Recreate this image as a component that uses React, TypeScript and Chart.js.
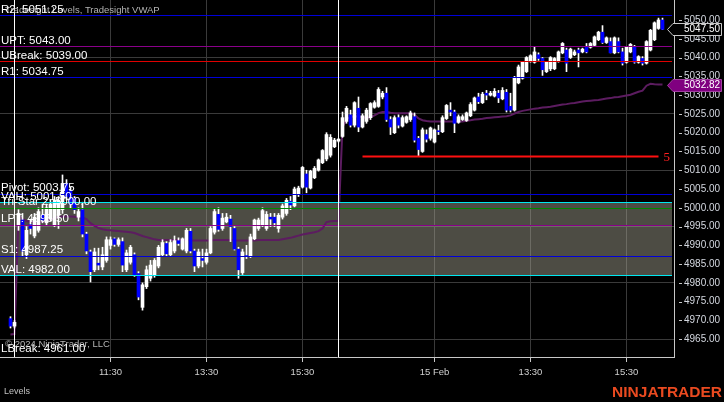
import React, { useEffect, useRef } from 'react';
import { Chart, registerables } from 'chart.js';

Chart.register(...registerables);

// ---- Data (5-minute bars, index -1 = Feb 13 16:10 ... 162 = Feb 15 16:15) ----
const FIRST_BAR = -1;

const opens = [
  4970.5, 4968.5,
  4995.5, 4996.75, 4987.5, 4995.5, 4992.5, 4994, 4998, 4996, 4997, 4995.5,
  4998, 4999.5, 5006.5, 5004.5, 5002.5, 4997.5, 4999.5, 4993, 4988.25, 4983.5,
  4985.25, 4984.25, 4986, 4990, 4991.75, 4990.25, 4991, 4983.5, 4985.5, 4987.5,
  4982.5, 4973.5, 4979, 4981.25, 4982, 4984.5, 4987.5, 4990.5, 4987.5, 4988.5,
  4991.25, 4989, 4988.5, 4993.75, 4988.5, 4984.5, 4986.5, 4985.5, 4988, 4993.5,
  4998.25, 4994.5, 4996.25, 4997, 4994.5, 4989, 4982.75, 4987.25, 4987, 4991.75,
  4994.5, 4995.5, 4994.5, 4997.5, 4997.5, 4994.5, 4997.5, 4998.5, 5001.75, 5000.5,
  5003.5, 5005.5, 5009, 5005.25, 5008, 5010, 5012, 5013, 5014, 5016.25, 5017.75,
  5019, 5023, 5024.75, 5022, 5026.5, 5021.5, 5023, 5024, 5026.75, 5027,
  5029.5, 5030.5, 5023.5, 5020, 5024, 5021.75, 5022.75, 5023.5, 5024.25, 5018.5,
  5015, 5019.5, 5018.5, 5017.5, 5020.5, 5020.25, 5023.75, 5026, 5025.5, 5022.75,
  5023.5, 5023.25, 5024.5, 5026, 5029.5, 5028, 5030.5, 5030, 5029.75, 5030.5,
  5029, 5030.75, 5027, 5026, 5033.25, 5034.5, 5036.25, 5039, 5038.75, 5040.75,
  5039.75, 5036.25, 5037, 5037, 5039, 5041.25, 5042, 5040, 5040.75, 5042,
  5041.5, 5042.75, 5042.75, 5043.25, 5044.75, 5046.75, 5044, 5044.25, 5041.25, 5044.25,
  5041.5, 5038.75, 5041.5, 5042.75, 5038.75, 5039.75, 5038.5, 5042, 5044.75, 5047.75, 5050,
];

const highs = [
  4971, 4970,
  4999.5, 4998.5, 4995, 4997, 4998.5, 5000, 5001, 5001, 5002, 5003,
  5003, 5008.75, 5007.5, 5005.5, 5003, 5000, 5001.5, 4993.5, 4988.75, 4989.25,
  4989.25, 4989.5, 4992.25, 4992.25, 4992, 4992, 4992, 4988.75, 4990, 4988,
  4983, 4980, 4984.5, 4986, 4986.5, 4990, 4991.5, 4991, 4991.5, 4992.5,
  4992, 4992, 4994.5, 4994.5, 4989, 4989, 4989, 4989, 4995, 4999.75,
  5000, 4998.5, 4998.5, 4998, 4995, 4989.5, 4989, 4990, 4993, 4997,
  4997.25, 5000, 4999, 4998.5, 4998.5, 4998.5, 5001, 5002.5, 5003, 5005.5,
  5005.75, 5011, 5010, 5010, 5011, 5013, 5015.5, 5020, 5019.5, 5018.5, 5018.5,
  5025.5, 5027, 5026, 5028.25, 5029.5, 5025, 5026.5, 5028, 5028.5, 5032,
  5031, 5032, 5024.25, 5024.5, 5024.75, 5024.5, 5024.5, 5025.75, 5025.25, 5019,
  5021.25, 5020.75, 5021.5, 5021, 5022, 5024.5, 5027.5, 5028, 5026, 5024.75,
  5024.75, 5025.5, 5028, 5029.5, 5030.5, 5030.75, 5031.25, 5031, 5031.75, 5031.25,
  5032, 5031.5, 5030.5, 5035, 5038, 5039, 5040.25, 5040.75, 5042.75, 5041.25,
  5040, 5039, 5040.25, 5040, 5041.75, 5044, 5042.5, 5042.5, 5042, 5042.5,
  5042.5, 5043.75, 5044, 5045.75, 5047, 5048.5, 5045.5, 5045.25, 5045.5, 5045.25,
  5042.5, 5043, 5043.75, 5043.25, 5040.5, 5040.25, 5044.5, 5047.5, 5049.5, 5050.5, 5050.5,
];

const lows = [
  4968, 4968,
  4994, 4987.25, 4986.5, 4993, 4992, 4993.5, 4996, 4995.5, 4996.5, 4995,
  4994.5, 4998.5, 5002, 5000, 4998.5, 4996.5, 4992.25, 4987.75, 4980.25, 4983,
  4983.5, 4983.5, 4985.5, 4989, 4989.75, 4989.75, 4983, 4983, 4985, 4981.75,
  4975.5, 4972.75, 4978.5, 4980.5, 4981.5, 4984, 4987, 4987, 4987, 4988,
  4990, 4988.75, 4988, 4988, 4983, 4984, 4984.25, 4985, 4987.75, 4993,
  4993.75, 4994, 4996, 4991, 4988.75, 4981.25, 4982.25, 4986.5, 4986.75, 4991.5,
  4994, 4995, 4994, 4995, 4995, 4993.5, 4997, 4998, 4999.5, 5000.25,
  5003, 5005.25, 5004, 5005, 5007.75, 5009.75, 5011.75, 5012.5, 5013.5, 5016, 5017.5,
  5018.75, 5022.5, 5021.5, 5021.5, 5020.25, 5021.25, 5022.5, 5023.5, 5026.5, 5026.75,
  5029, 5023, 5019.5, 5019.75, 5021.25, 5021.5, 5022.5, 5023, 5017.5, 5013.75,
  5014.75, 5017.5, 5018, 5017.25, 5019.5, 5020, 5023.5, 5024.5, 5020, 5022.5,
  5023.25, 5023, 5024.25, 5025.75, 5027.75, 5027.75, 5028.75, 5029.75, 5029.5, 5028,
  5028.75, 5025.5, 5025.5, 5025.75, 5033, 5034.25, 5036, 5038.75, 5038.5, 5039.25,
  5035.25, 5036, 5036.5, 5036.75, 5038.75, 5041, 5036.25, 5039.75, 5040.5, 5037.5,
  5041.25, 5041.25, 5042.5, 5043, 5044.5, 5043.75, 5043.75, 5041.25, 5041, 5041.25,
  5038, 5038.5, 5041.25, 5038.5, 5038.5, 5038, 5038.25, 5041.75, 5044.5, 5047.5, 5047.5,
];

const closes = [
  4968.5, 4969.5,
  4998.5, 4988.5, 4994, 4994.5, 4997.5, 4999, 4996.75, 5000, 5001, 5002,
  5002, 5006.5, 5003, 5001, 4999.5, 4999, 4993, 4988.5, 4983, 4988.25,
  4984.75, 4987.5, 4991.5, 4991.5, 4990.25, 4991.5, 4984.75, 4988, 4989.5, 4982,
  4976.25, 4979.5, 4983.5, 4984.75, 4986, 4989.5, 4990.75, 4987.75, 4990.75, 4991.25,
  4990.5, 4991.75, 4994, 4988.5, 4984.5, 4988.25, 4986, 4988, 4994.5, 4999,
  4994.25, 4997.25, 4997.5, 4995, 4989, 4983.5, 4988.25, 4987, 4992.25, 4996.75,
  4996.75, 4999.25, 4998.25, 4997, 4996, 4998, 5000.5, 5002, 5000.75, 5005,
  5005.25, 5010.75, 5005.5, 5009.75, 5010.5, 5012.75, 5015.25, 5019.5, 5018.75, 5018, 5018.25,
  5024, 5026.5, 5022, 5028, 5021.5, 5024.5, 5026, 5027.75, 5028, 5031.5,
  5030.5, 5023.5, 5021.5, 5024, 5022, 5024, 5024.25, 5025.25, 5018, 5015.5,
  5020.75, 5018.25, 5021.25, 5020.75, 5020.25, 5024, 5027.25, 5025.5, 5022.5, 5024.25,
  5024.25, 5025.25, 5027.5, 5029.25, 5028.25, 5030.25, 5030, 5030.5, 5031, 5029.25,
  5031.25, 5026, 5026, 5034.5, 5037.5, 5038.75, 5040, 5040.5, 5041.5, 5039.75,
  5036.75, 5038.75, 5040, 5039.75, 5041.5, 5043.75, 5038.5, 5042.25, 5041.5, 5041.25,
  5042.25, 5041.5, 5043.75, 5045.5, 5046.75, 5044, 5045.25, 5041.25, 5045.25, 5041.5,
  5038.5, 5042.75, 5043.5, 5038.75, 5040.25, 5038.5, 5044.25, 5047.25, 5049.25, 5050, 5047.5,
];

const vwap = [
  4966.3, 4966.4,
  4997.8, 4997.0, 4996.5, 4996.3, 4996.2, 4996.2, 4996.3, 4996.5, 4996.9, 4997.2, 4997.5, 4997.7,
  4997.7, 4997.7, 4997.6, 4997.5, 4997.4, 4997.0, 4995.9, 4995.2, 4994.6, 4994.3, 4994.1, 4994.0,
  4993.9, 4993.8, 4993.7, 4993.6, 4993.5, 4993.3, 4992.9, 4992.5, 4992.2, 4991.9, 4991.6, 4991.4,
  4991.4, 4991.4, 4991.4, 4991.4, 4991.4, 4991.4, 4991.4, 4991.3, 4991.3, 4991.3, 4991.3, 4991.3,
  4991.3, 4991.4, 4991.4, 4991.4, 4991.4, 4991.4, 4991.3, 4991.3, 4991.3, 4991.3, 4991.3, 4991.3,
  4991.4, 4991.4, 4991.4, 4991.4, 4991.4, 4991.4, 4991.6, 4991.8, 4992.0, 4992.3, 4992.6, 4992.9,
  4993.1, 4993.3, 4993.5, 4993.8, 4994.5, 4996.2, 4996.4, 4996.5, 4996.5,
  5021.5, 5023.5, 5024.2, 5024.4, 5024.3, 5024.1, 5023.9, 5024.1, 5024.6, 5025.2, 5025.5, 5025.5,
  5025.3, 5025.2, 5025.2, 5025.2, 5025.2, 5025.2, 5024.8, 5023.8, 5023.3, 5023.1, 5023.0, 5023.0,
  5023.0, 5023.0, 5023.0, 5023.0, 5023.0, 5023.0, 5023.0, 5023.2, 5023.3, 5023.5, 5023.6, 5023.7,
  5023.9, 5024.0, 5024.1, 5024.2, 5024.3, 5024.4, 5024.6, 5025.1, 5025.5, 5025.8, 5026.0, 5026.2,
  5026.4, 5026.5, 5026.7, 5026.8, 5026.9, 5027.1, 5027.3, 5027.5, 5027.6, 5027.8, 5027.9, 5028.1,
  5028.3, 5028.4, 5028.5, 5028.6, 5028.7, 5028.9, 5029.1, 5029.2, 5029.4, 5029.5, 5029.7, 5029.9,
  5030.1, 5030.5, 5030.9, 5031.2, 5032.5, 5033.0, 5032.9, 5032.85, 5032.82,
];

const levelNames = ['R2', 'UPT', 'UBreak', 'R1', 'Pivot', 'VAH', 'Tri-Star 2', 'LPT', 'S1', 'VAL', 'LBreak'];
const levelValues = [5051.25, 5043.0, 5039.0, 5034.75, 5003.75, 5001.5, 5000.0, 4995.5, 4987.25, 4982.0, 4961.0];
const levelColors = ['#0000d8', '#8a008a', '#e00000', '#0000d8', '#0000d8', '#00e8f0', '#008800', '#8a008a', '#0000d8', '#00e8f0', ''];

const valueAreaHigh = 5001.5;
const valueAreaLow = 4982.0;

const targetPrice = 5013.75;
const targetStartBar = 87;
const targetEndBar = 161;
const targetLabel = '5';

const sessionBreakBars = [0, 81];

const xTickBars = [24, 48, 72, 105, 129, 153];
const xTickLabels = ['11:30', '13:30', '15:30', '15 Feb', '13:30', '15:30'];

const yTickValues = [4965, 4970, 4975, 4980, 4985, 4990, 4995, 5000, 5005, 5010, 5015, 5020, 5025, 5030, 5035, 5040, 5045, 5050];
const gridEvery = 15;

const titleText = 'Tradesight Levels, Tradesight VWAP';
const copyrightText = '\u00A9 2024 NinjaTrader, LLC';
const panelLabel = 'Levels';
const logoText = 'NINJATRADER';

// ---- View range ----
const X_MIN = -3.625;
const X_MAX = 164.875;
const Y_MIN = 4960.28;
const Y_MAX = 5055.32;

const FONT = '"Liberation Sans", Arial, sans-serif';

const overlayPlugin: any = {
  id: 'ntOverlay',
  beforeDatasetsDraw(chart: any) {
    const { ctx, chartArea: a, scales } = chart;
    const y = scales.y;
    const yt = Math.round(y.getPixelForValue(valueAreaHigh));
    const yb = Math.round(y.getPixelForValue(valueAreaLow));
    ctx.save();
    ctx.fillStyle = 'rgba(170,168,150,0.45)';
    ctx.fillRect(a.left, yt, a.right - 2 - a.left, yb - yt);
    ctx.restore();
  },
  afterDatasetsDraw(chart: any) {
    const { ctx, chartArea: a, scales } = chart;
    const x = scales.x;
    const y = scales.y;
    ctx.save();
    ctx.lineWidth = 1;
    levelValues.forEach((v, i) => {
      const c = levelColors[i];
      if (!c) return;
      const py = Math.round(y.getPixelForValue(v)) + 0.5;
      ctx.strokeStyle = c;
      ctx.beginPath();
      ctx.moveTo(a.left, py);
      ctx.lineTo(a.right - 2, py);
      ctx.stroke();
    });
    {
      const py = Math.round(y.getPixelForValue(targetPrice)) + 0.5;
      const x0 = x.getPixelForValue(targetStartBar);
      const x1 = x.getPixelForValue(targetEndBar);
      ctx.strokeStyle = '#ff1010';
      ctx.lineWidth = 2;
      ctx.beginPath();
      ctx.moveTo(x0, py);
      ctx.lineTo(x1, py);
      ctx.stroke();
      ctx.lineWidth = 1;
      ctx.fillStyle = '#ff2020';
      ctx.font = '13px "Liberation Serif", "Times New Roman", serif';
      ctx.textBaseline = 'middle';
      ctx.textAlign = 'left';
      ctx.fillText(targetLabel, x1 + 5, py + 1);
    }
    ctx.strokeStyle = '#ffffff';
    sessionBreakBars.forEach((b) => {
      const px = Math.floor(x.getPixelForValue(b)) + 0.5;
      ctx.beginPath();
      ctx.moveTo(px, a.top);
      ctx.lineTo(px, a.bottom);
      ctx.stroke();
    });
    ctx.textAlign = 'left';
    ctx.textBaseline = 'alphabetic';
    ctx.fillStyle = '#b4b4b4';
    ctx.font = '9.5px ' + FONT;
    ctx.fillText(titleText, 5, 13);
    ctx.fillText(copyrightText, 5, 346.5);
    ctx.fillStyle = '#ffffff';
    ctx.font = '11.5px ' + FONT;
    levelValues.forEach((v, i) => {
      const py = y.getPixelForValue(v);
      ctx.fillText(levelNames[i] + ': ' + v.toFixed(2), 1, py - 2.5);
    });
    ctx.restore();
  },
  afterDraw(chart: any) {
    const { ctx, chartArea: a, scales, width, height } = chart;
    const y = scales.y;
    ctx.save();
    ctx.strokeStyle = '#c8c8c8';
    ctx.lineWidth = 1;
    yTickValues.forEach((v) => {
      const py = Math.round(y.getPixelForValue(v)) + 0.5;
      ctx.beginPath();
      ctx.moveTo(a.right + 5, py);
      ctx.lineTo(a.right + 8, py);
      ctx.stroke();
    });
    const drawFlag = (val: number, fill: string, stroke: string) => {
      const py = Math.round(y.getPixelForValue(val)) + 0.5;
      const x0 = a.right - 6.5;
      const x1 = a.right - 1;
      const x2 = a.right + 47.5;
      const h = 6;
      ctx.beginPath();
      ctx.moveTo(x0, py);
      ctx.lineTo(x1, py - h);
      ctx.lineTo(x2, py - h);
      ctx.lineTo(x2, py + h);
      ctx.lineTo(x1, py + h);
      ctx.closePath();
      ctx.fillStyle = fill;
      ctx.fill();
      ctx.strokeStyle = stroke;
      ctx.stroke();
      ctx.fillStyle = '#ffffff';
      ctx.font = '10px ' + FONT;
      ctx.textAlign = 'left';
      ctx.textBaseline = 'middle';
      ctx.fillText(val.toFixed(2), a.right + 10, py);
    };
    drawFlag(closes[closes.length - 1], '#000000', '#c8c8c8');
    drawFlag(vwap[vwap.length - 1], '#800080', '#a040a0');
    ctx.textBaseline = 'middle';
    ctx.textAlign = 'left';
    ctx.fillStyle = '#c0c0c0';
    ctx.font = '9px ' + FONT;
    ctx.fillText(panelLabel, 4, 392);
    ctx.textAlign = 'right';
    ctx.fillStyle = '#ea4a20';
    ctx.font = 'bold 15.5px ' + FONT;
    ctx.textBaseline = 'alphabetic';
    ctx.fillText(logoText, width - 2, height - 5);
    ctx.restore();
  },
};

export default function App() {
  const ref = useRef<HTMLCanvasElement | null>(null);

  useEffect(() => {
    document.body.style.margin = '0';
    document.body.style.background = '#000';
    const canvas = ref.current;
    if (!canvas) return;

    const bodyData = opens.map((o, i) => ({ x: FIRST_BAR + i, y: [o, closes[i]] }));
    const wickData = lows.map((l, i) => ({ x: FIRST_BAR + i, y: [l, highs[i]] }));
    const bodyColors = opens.map((o, i) => (closes[i] >= o ? '#ffffff' : '#0000ff'));
    const vwapData = vwap.map((v, i) => ({ x: FIRST_BAR + i, y: v }));

    const chart = new Chart(canvas, {
      type: 'bar',
      data: {
        datasets: [
          {
            type: 'line',
            label: 'VWAP',
            data: vwapData,
            borderColor: '#5c1c60',
            borderWidth: 2,
            pointRadius: 0,
            tension: 0,
            fill: false,
            order: 3,
          } as any,
          {
            label: 'wicks',
            data: wickData,
            backgroundColor: '#ffffff',
            borderWidth: 0,
            barThickness: 1,
            grouped: false,
            minBarLength: 1,
            order: 2,
          } as any,
          {
            label: 'bodies',
            data: bodyData,
            backgroundColor: bodyColors,
            borderWidth: 0,
            barThickness: 3,
            grouped: false,
            minBarLength: 1,
            order: 1,
          } as any,
        ],
      },
      options: {
        animation: false,
        responsive: false,
        devicePixelRatio: 1,
        events: [],
        layout: { padding: 0 },
        plugins: { legend: { display: false }, tooltip: { enabled: false } },
        scales: {
          x: {
            type: 'linear',
            min: X_MIN,
            max: X_MAX,
            offset: false,
            afterFit: (s: any) => {
              s.height = 45;
              s.paddingLeft = 0;
              s.paddingRight = 0;
            },
            afterBuildTicks: (s: any) => {
              s.ticks = xTickBars.map((v) => ({ value: v }));
            },
            ticks: {
              autoSkip: false,
              maxRotation: 0,
              color: '#d0d0d0',
              font: { family: FONT, size: 9.5 },
              padding: 5,
              callback: (v: any) => {
                const i = xTickBars.indexOf(Number(v));
                return i >= 0 ? xTickLabels[i] : '';
              },
            },
            grid: { color: '#3a3a3a', tickColor: '#c8c8c8', tickLength: 5, offset: false },
            border: { color: '#c8c8c8', width: 1 },
          },
          y: {
            type: 'linear',
            position: 'right',
            min: Y_MIN,
            max: Y_MAX,
            afterFit: (s: any) => {
              s.width = 50;
              s.paddingTop = 0;
              s.paddingBottom = 0;
            },
            afterBuildTicks: (s: any) => {
              s.ticks = yTickValues.map((v) => ({ value: v }));
            },
            ticks: {
              autoSkip: false,
              color: '#d4d8e0',
              font: { family: FONT, size: 10 },
              padding: 10,
              callback: (v: any) => Number(v).toFixed(2),
            },
            grid: {
              drawTicks: false,
              color: (c: any) =>
                c.tick && Math.round(c.tick.value) % gridEvery === 0 ? '#3a3a3a' : 'rgba(0,0,0,0)',
            },
            border: { color: '#c8c8c8', width: 1 },
          },
        },
      } as any,
      plugins: [overlayPlugin],
    });

    return () => chart.destroy();
  }, []);

  return (
    <div style={{ position: 'absolute', left: 0, top: 0, width: 724, height: 402, background: '#000', overflow: 'hidden' }}>
      <canvas ref={ref} width={724} height={402} style={{ display: 'block', width: 724, height: 402 }} />
    </div>
  );
}
